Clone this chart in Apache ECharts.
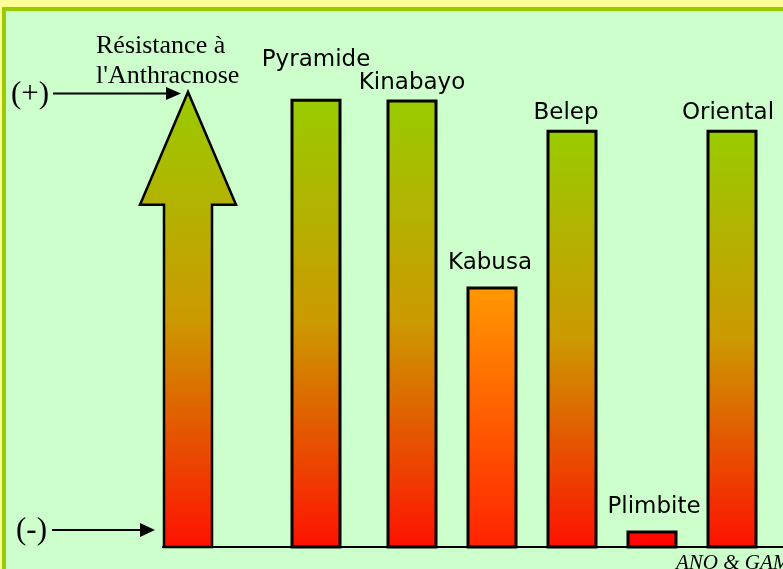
<!DOCTYPE html>
<html>
<head>
<meta charset="utf-8">
<script src="https://cdn.jsdelivr.net/npm/echarts@6/dist/echarts.min.js"></script>
<style>html,body{margin:0;padding:0;background:#ffff99;}#c{width:783px;height:569px;}</style>
</head>
<body>
<div id="c"></div>
<script>
// ---- data ----
const categories = ['Pyramide', 'Kinabayo', 'Kabusa', 'Belep', 'Plimbite', 'Oriental'];
const slots = [8, 14, 19, 24, 29, 34];           // category slot index along the axis
const resistance = [98.2, 98.0, 56.9, 91.4, 3.3, 91.4]; // relative resistance (0-100)
const arrowSlot = 0;
const arrowShaftTop = 75.2;
const arrowTip = 100;
const titleLines = ['Résistance à', "l'Anthracnose"];
const plusLabel = '(+)';
const minusLabel = '(-)';
const creditText = 'ANO & GAM';

// ---- styles ----
const schemes = {
  normal: [['0', '#99cc00'], ['0.5', '#cc9900'], ['1', '#ff1100']],
  orange: [['0', '#ff9900'], ['1', '#ff2200']],
  red: [['0', '#ff1100'], ['1', '#ff0000']]
};
const barScheme = ['normal', 'normal', 'orange', 'normal', 'red', 'normal'];
const labelDy = [40, 18, 25, 18, 25, 18];
const labelDx = [0, 0, -2, -6, 2, -4];

function grad(name) {
  return new echarts.graphic.LinearGradient(0, 0, 0, 1,
    schemes[name].map(s => ({ offset: +s[0], color: s[1] })));
}

const chart = echarts.init(document.getElementById('c'), null, { renderer: 'canvas' });

const option = {
  backgroundColor: '#ffff99',
  animation: false,
  grid: { left: 163, right: 0, top: 92, bottom: 22 },
  xAxis: {
    type: 'value', min: -1.5625, max: 37.1875,
    axisLine: { show: true, onZero: false, lineStyle: { color: '#000', width: 2 } },
    axisTick: { show: false }, axisLabel: { show: false }, splitLine: { show: false }
  },
  yAxis: {
    type: 'value', min: 0, max: 100, show: false,
    splitLine: { show: false }
  },
  graphic: [
    { type: 'rect', z: -100, shape: { x: 4, y: 9, width: 820, height: 620 },
      style: { fill: '#ccffcc', stroke: '#99cc00', lineWidth: 4 } },
    { type: 'text', x: 96, y: 46, style: { text: titleLines[0], font: '26px "Liberation Serif"', fill: '#000', verticalAlign: 'middle' } },
    { type: 'text', x: 96, y: 76, style: { text: titleLines[1], font: '26px "Liberation Serif"', fill: '#000', verticalAlign: 'middle' } },
    { type: 'text', x: 11, y: 95, style: { text: plusLabel, font: '31px "Liberation Serif"', fill: '#000', verticalAlign: 'middle' } },
    { type: 'line', shape: { x1: 53, y1: 93.5, x2: 168, y2: 93.5 }, style: { stroke: '#000', lineWidth: 2 } },
    { type: 'polygon', shape: { points: [[166, 87], [181, 93.5], [166, 100]] }, style: { fill: '#000' } },
    { type: 'text', x: 16, y: 531, style: { text: minusLabel, font: '31px "Liberation Serif"', fill: '#000', verticalAlign: 'middle' } },
    { type: 'line', shape: { x1: 52, y1: 530, x2: 142, y2: 530 }, style: { stroke: '#000', lineWidth: 2 } },
    { type: 'polygon', shape: { points: [[140, 523], [155, 530], [140, 537]] }, style: { fill: '#000' } },
    { type: 'text', x: 676, y: 563, style: { text: creditText, font: 'italic 21px "Liberation Serif"', fill: '#000', verticalAlign: 'middle' } }
  ],
  series: [
    {
      type: 'custom',
      clip: false,
      data: [[arrowSlot, arrowShaftTop, arrowTip]],
      renderItem: function (params, api) {
        const x = api.value(0), st = api.value(1), tip = api.value(2);
        const pts = [
          api.coord([x - 1.5, 0]), api.coord([x - 1.5, st]), api.coord([x - 3, st]),
          api.coord([x, tip]), api.coord([x + 3, st]), api.coord([x + 1.5, st]),
          api.coord([x + 1.5, 0])
        ];
        return {
          type: 'polygon', shape: { points: pts },
          style: { fill: grad('normal'), stroke: '#000', lineWidth: 2.5 }
        };
      }
    },
    {
      type: 'custom',
      clip: false,
      data: categories.map((c, i) => [slots[i], resistance[i], i]),
      renderItem: function (params, api) {
        const x = api.value(0), v = api.value(1), i = api.value(2);
        const p1 = api.coord([x - 1.5, v]);
        const p2 = api.coord([x + 1.5, 0]);
        return {
          type: 'group',
          children: [
            { type: 'rect', shape: { x: p1[0], y: p1[1], width: p2[0] - p1[0], height: p2[1] - p1[1] },
              style: { fill: grad(barScheme[i]), stroke: '#000', lineWidth: 3 } },
            { type: 'text', x: (p1[0] + p2[0]) / 2 + labelDx[i], y: p1[1] - labelDy[i],
              style: { text: categories[i], font: '23px "DejaVu Sans"', fill: '#000', align: 'center', verticalAlign: 'middle' } }
          ]
        };
      }
    }
  ]
};
chart.setOption(option);
</script>
</body>
</html>
